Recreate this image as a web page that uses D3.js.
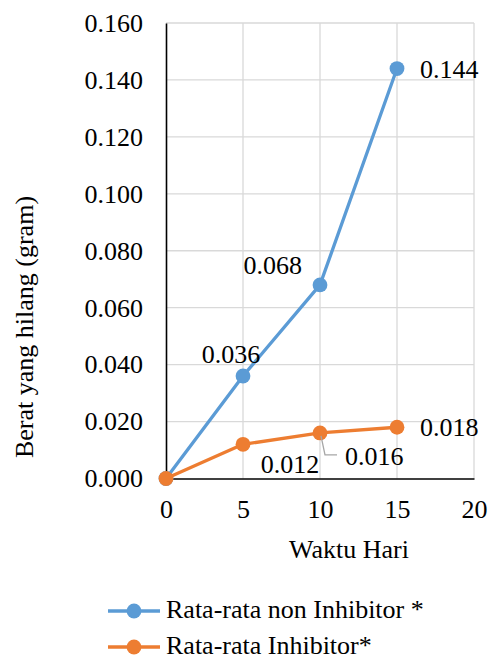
<!DOCTYPE html>
<html>
<head>
<meta charset="utf-8">
<script src="https://cdn.jsdelivr.net/npm/d3@7"></script>
<style>
  html, body { margin: 0; padding: 0; background: #fff; }
  text { font-family: "Liberation Serif", serif; }
</style>
</head>
<body>
<svg id="chart" width="490" height="664" font-family="Liberation Serif"></svg>
<script>
// Days of observation
const days = [0, 5, 10, 15];
// Average weight loss (gram)
const nonInhibitor = [0, 0.036, 0.068, 0.144];
const inhibitor = [0, 0.012, 0.016, 0.018];
const seriesNames = ["Rata-rata non Inhibitor *", "Rata-rata Inhibitor*"];
const xTicks = [0, 5, 10, 15, 20];
const yTicks = [0, 0.02, 0.04, 0.06, 0.08, 0.10, 0.12, 0.14, 0.16];

const colors = ["#5b9bd5", "#ed7d31"];
const fontSize = 26;
const fontName = "Liberation Serif";

const svg = d3.select("#chart");
const m = { left: 166, right: 474, top: 23, bottom: 478.5 };

const x = d3.scaleLinear().domain([0, 20]).range([m.left, m.right]);
const y = d3.scaleLinear().domain([0, 0.16]).range([m.bottom, m.top]);

// shared text styling
function styleText(sel) {
  return sel
    .attr("font-family", fontName)
    .attr("font-size", fontSize)
    .style("font-family", fontName)
    .style("font-size", fontSize + "px")
    .attr("fill", "#000");
}

// gridlines
const grid = svg.append("g");
grid.selectAll("line.h").data(yTicks.slice(1)).join("line")
  .attr("x1", m.left).attr("x2", m.right)
  .attr("y1", d => y(d)).attr("y2", d => y(d))
  .attr("stroke", "#d9d9d9").attr("stroke-width", 1.3);
grid.selectAll("line.v").data(xTicks.slice(1)).join("line")
  .attr("y1", m.top).attr("y2", m.bottom)
  .attr("x1", d => x(d)).attr("x2", d => x(d))
  .attr("stroke", "#d9d9d9").attr("stroke-width", 1.3);

// axes
const yAxis = d3.axisLeft(y).tickValues(yTicks).tickSize(0).tickPadding(23)
  .tickFormat(d3.format(".3f"));
const gy = svg.append("g").attr("transform", `translate(${m.left},0)`).call(yAxis)
  .attr("font-family", fontName).attr("font-size", fontSize);
gy.select(".domain").attr("stroke", "#000").attr("stroke-width", 1.6);
styleText(gy.selectAll("text"));

const xAxis = d3.axisBottom(x).tickValues(xTicks).tickSize(0).tickPadding(21)
  .tickFormat(d3.format("d"));
const gx = svg.append("g").attr("transform", `translate(0,${m.bottom})`).call(xAxis)
  .attr("font-family", fontName).attr("font-size", fontSize);
gx.select(".domain").attr("stroke", "#000").attr("stroke-width", 1.6);
styleText(gx.selectAll("text"));

// axis titles
styleText(svg.append("text")
  .attr("x", 349).attr("y", 558)
  .attr("text-anchor", "middle"))
  .text("Waktu Hari");
styleText(svg.append("text")
  .attr("transform", "translate(33,327) rotate(-90)")
  .attr("text-anchor", "middle"))
  .text("Berat yang hilang (gram)");

// series
const line = d3.line().x(d => x(d[0])).y(d => y(d[1]));
const series = [nonInhibitor, inhibitor].map(vals => days.map((d, i) => [d, vals[i]]));

series.forEach((pts, si) => {
  svg.append("path").datum(pts)
    .attr("d", line).attr("fill", "none")
    .attr("stroke", colors[si]).attr("stroke-width", 3.3)
    .attr("stroke-linejoin", "round");
  svg.append("g").selectAll("circle").data(pts).join("circle")
    .attr("cx", d => x(d[0])).attr("cy", d => y(d[1])).attr("r", 7.4)
    .attr("fill", colors[si]);
});

// leader line for the 0.016 label
svg.append("path")
  .attr("d", `M${x(10) + 1},${y(0.016) + 3} L${x(10) + 5},${y(0.016) + 22} L${x(10) + 17},${y(0.016) + 22}`)
  .attr("fill", "none").attr("stroke", "#a6a6a6").attr("stroke-width", 1.3);

// data labels
const labelSpecs = [
  { s: 0, i: 1, dx: -12, dy: -13, anchor: "middle" },
  { s: 0, i: 2, dx: -18, dy: -11, anchor: "end" },
  { s: 0, i: 3, dx: 23, dy: 9, anchor: "start" },
  { s: 1, i: 1, dx: 47, dy: 29, anchor: "middle" },
  { s: 1, i: 2, dx: 25, dy: 32, anchor: "start" },
  { s: 1, i: 3, dx: 23, dy: 9, anchor: "start" }
];
styleText(svg.append("g").selectAll("text").data(labelSpecs).join("text")
  .attr("x", d => x(series[d.s][d.i][0]) + d.dx)
  .attr("y", d => y(series[d.s][d.i][1]) + d.dy)
  .attr("text-anchor", d => d.anchor))
  .text(d => d3.format(".3f")(series[d.s][d.i][1]));

// legend
const legend = svg.append("g");
seriesNames.forEach((name, i) => {
  const ly = 611 + i * 36;
  legend.append("line").attr("x1", 108).attr("x2", 160).attr("y1", ly).attr("y2", ly)
    .attr("stroke", colors[i]).attr("stroke-width", 3.3);
  legend.append("circle").attr("cx", 134).attr("cy", ly).attr("r", 7.4).attr("fill", colors[i]);
  styleText(legend.append("text").attr("x", 166).attr("y", ly + 7)).text(name);
});
</script>
</body>
</html>
